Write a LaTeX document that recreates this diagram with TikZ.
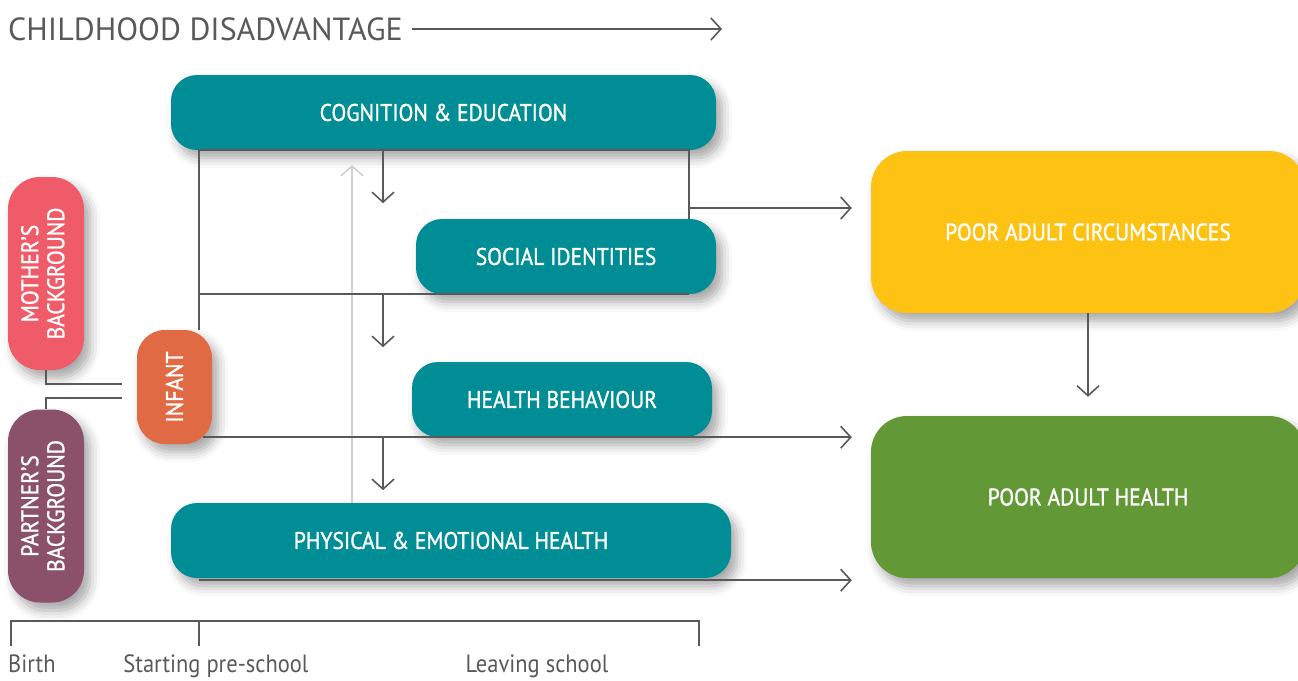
\documentclass[tikz,border=0pt]{standalone}
\usepackage{fontspec}
\setmainfont{PT Sans}[FakeStretch=0.9]
\newfontfamily\headfont{PT Sans}
\newfontfamily\boxfont{PT Sans}[FakeStretch=0.9,FakeBold=1.2]
\usepackage{graphicx}
\usetikzlibrary{
    arrows.meta,
    positioning,
    shadows.blur % soft shadows under the boxes
}

\begin{document}
\begin{tikzpicture}
    [x=1pt,y=-1pt,
    % Styles
    box/.style={rounded corners=26pt,fill=#1,text=white,inner sep=0pt,
        font=\boxfont\fontsize{24}{26}\selectfont,
        blur shadow={shadow xshift=6pt,shadow yshift=-8pt,
            shadow blur radius=10pt,shadow opacity=35}},
    stage/.style={box=stagecolor,minimum height=75pt},
    outcome/.style={box=#1,rounded corners=36pt,minimum width=434pt,minimum height=162pt},
    parent/.style={box=#1,rounded corners=32pt,minimum width=76pt,minimum height=193pt},
    link/.style={draw=linecolor,line width=1.6pt},
    flow/.style={link,-{Straight Barb[length=10pt,width=22pt]}},
    faint flow/.style={draw=faintcolor,line width=1.6pt,-{Straight Barb[length=10pt,width=22pt]}},
    caption/.style={text=linecolor,inner sep=0pt,font=\fontsize{25}{28}\selectfont}]

    % Colors
    \definecolor{stagecolor}{HTML}{008D96}
    \definecolor{mothercolor}{HTML}{EF5B68}
    \definecolor{partnercolor}{HTML}{8B516B}
    \definecolor{infantcolor}{HTML}{E06A43}
    \definecolor{circcolor}{HTML}{FEC213}
    \definecolor{healthcolor}{HTML}{629936}
    \definecolor{linecolor}{HTML}{58595B}
    \definecolor{faintcolor}{HTML}{CFCFCF}

    \useasboundingbox (0,0) rectangle (1298,680);

    % The boxes
    \node[stage,minimum width=545pt] (cog) at (443.5,112.5) {COGNITION \& EDUCATION};
    \node[stage,minimum width=300pt] (soc) at (566,256.5) {SOCIAL IDENTITIES};
    \node[stage,minimum width=300pt] (beh) at (562,399.5) {HEALTH BEHAVIOUR};
    \node[stage,minimum width=560pt] (phys) at (451,540.5) {PHYSICAL \& EMOTIONAL HEALTH};

    \node[parent=mothercolor] (mother) at (46,273.5)
        {\rotatebox{90}{\begin{tabular}{@{}c@{}}MOTHER’S\\BACKGROUND\end{tabular}}};
    \node[parent=partnercolor] (partner) at (46,506)
        {\rotatebox{90}{\begin{tabular}{@{}c@{}}PARTNER’S\\BACKGROUND\end{tabular}}};
    \node[box=infantcolor,rounded corners=28pt,minimum width=75pt,minimum height=114pt]
        (infant) at (174.5,387) {\rotatebox{90}{INFANT}};

    \node[outcome=circcolor] (circ) at (1088,232) {POOR ADULT CIRCUMSTANCES};
    \node[outcome=healthcolor] (health) at (1088,497) {POOR ADULT HEALTH};

    % Heading
    \node[anchor=west,text=linecolor,inner sep=0pt,font=\headfont\fontsize{32}{36}\selectfont]
        (title) at (8,29) {CHILDHOOD DISADVANTAGE};
    \coordinate (title end) at (722,29);
    \draw[flow] (title.east -| 412,0) -- (title end);

    % Connectors
    \coordinate (spine) at (199,0);
    \coordinate (rail) at (689,0);
    \coordinate (drop) at (383,0);
    \coordinate (lift) at (352,0);
    \coordinate (branch) at (689,208);

    \draw[faint flow] (lift |- phys.north) -- ++(0,-338);

    \draw[link] (spine |- infant.north) -- (spine |- cog.south)
        -- (rail |- cog.south) -- (rail |- soc.north);
    \draw[flow,shorten >=19pt] (branch) -- (branch -| circ.west);
    \draw[link] (spine |- soc.south) -- (rail |- soc.south);
    \draw[flow,shorten >=19pt] ([xshift=-9pt]infant.east |- beh.south) -- (health.west |- beh.south);
    \draw[flow,shorten >=19pt] ([yshift=-2pt]phys.south -| spine) -- ([yshift=-2pt]phys.south -| health.west);

    \foreach \src in {cog,soc,beh}
        \draw[flow] (drop |- \src.south) -- ++(0,53);

    \draw[flow,shorten >=19pt] (circ.south) -- (health.north);

    \draw[link,shorten >=15pt] (mother.south) |- ([yshift=3pt]infant.west);
    \draw[link,shorten >=15pt] (partner.north) |- ([yshift=-11pt]infant.west);

    % Time line
    \draw[link] (11,646) -- (11,621) -- (699,621) -- (699,646);
    \draw[link] (199,621) -- (199,646);
    \node[caption,anchor=base west] (birth) at (8,672) {Birth};
    \node[caption,anchor=base] (preschool) at (216,672) {Starting pre-school};
    \node[caption,anchor=base] (leaving) at (537,672) {Leaving school};
\end{tikzpicture}
\end{document}
